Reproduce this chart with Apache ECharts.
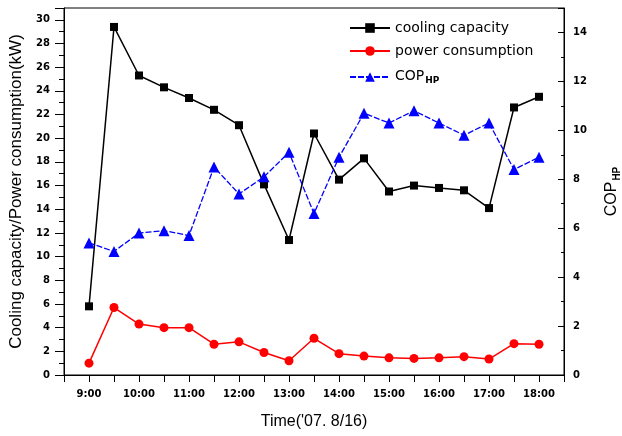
<!DOCTYPE html>
<html><head><meta charset="utf-8">
<script src="https://cdn.jsdelivr.net/npm/echarts@6/dist/echarts.min.js"></script>
<style>html,body{margin:0;padding:0;background:#fff}#c{width:622px;height:436px}</style>
</head><body><div id="c"></div>
<script>
const times = [9,9.5,10,10.5,11,11.5,12,12.5,13,13.5,14,14.5,15,15.5,16,16.5,17,17.5,18];
const coolingCapacity = [5.8,29.4,25.3,24.3,23.4,22.4,21.1,16.1,11.4,20.4,16.5,18.3,15.5,16.0,15.8,15.6,14.1,22.6,23.5];
const powerConsumption = [1.0,5.7,4.3,4.0,4.0,2.6,2.8,1.9,1.2,3.1,1.8,1.6,1.45,1.4,1.45,1.55,1.35,2.65,2.6];
const copHP = [5.4,5.05,5.8,5.9,5.7,8.5,7.4,8.1,9.1,6.6,8.9,10.7,10.3,10.8,10.3,9.8,10.3,8.4,8.9];
const seriesNames = ['cooling capacity','power consumption','COP_HP'];

const pair = (xs, ys) => xs.map((x,i)=>[x,ys[i]]);
const lblFont = {fontFamily:'DejaVu Sans', fontWeight:'bold', fontSize:10, color:'#000'};
const chart = echarts.init(document.getElementById('c'));
chart.setOption({
  animation:false,
  backgroundColor:'#fff',
  grid:{left:64,right:58,top:8,bottom:61,outerBoundsMode:'none',containLabel:false,show:true,borderColor:'#000',borderWidth:1,backgroundColor:'transparent'},
  legend:{
    orient:'vertical', left:344, top:16, itemWidth:40, itemHeight:12, itemGap:9,
    data:seriesNames,
    textStyle:{fontFamily:'DejaVu Sans', fontSize:14, color:'#000',
      rich:{a:{fontFamily:'DejaVu Sans',fontSize:14,color:'#000',lineHeight:16,verticalAlign:'top'},
            b:{fontFamily:'DejaVu Sans',fontSize:9,fontWeight:'bold',color:'#000',lineHeight:11,verticalAlign:'bottom',padding:[9,0,0,1]}}},
    formatter: n => n==='COP_HP' ? '{a|COP}{b|HP}' : n
  },
  xAxis:{
    type:'value', min:8.5, max:18.5, interval:0.5,
    name:"Time('07. 8/16)", nameLocation:'middle', nameGap:39,
    nameTextStyle:{fontFamily:'Liberation Sans', fontSize:16, color:'#000'},
    axisLine:{lineStyle:{color:'#000',width:1}},
    axisTick:{show:true,length:7,lineStyle:{color:'#000'}},
    splitLine:{show:false},
    axisLabel:Object.assign({margin:14, formatter:v => (Math.abs(v-Math.round(v))<1e-6) ? Math.round(v)+':00' : ''}, lblFont)
  },
  yAxis:[{
    type:'value', min:0, max:31, interval:2, position:'left',
    name:'Cooling capacity/Power consumption(kW)', nameLocation:'middle', nameGap:38,
    nameTextStyle:{fontFamily:'Liberation Sans', fontSize:17, color:'#000'},
    axisLine:{show:true,lineStyle:{color:'#000',width:1}},
    axisTick:{show:true,length:9,lineStyle:{color:'#000'}},
    minorTick:{show:true,splitNumber:2,length:5,lineStyle:{color:'#000'}},
    splitLine:{show:false},
    axisLabel:Object.assign({margin:14, showMaxLabel:false}, lblFont)
  },{
    type:'value', min:0, max:15, interval:2, position:'right',
    name:'{a|COP}{b|HP}', nameLocation:'middle', nameGap:40,
    nameTextStyle:{fontFamily:'Liberation Sans', fontSize:16, color:'#000',
      rich:{a:{fontFamily:'Liberation Sans',fontSize:16,color:'#000',lineHeight:18,verticalAlign:'top'},
            b:{fontFamily:'Liberation Sans',fontSize:10,fontWeight:'bold',color:'#000',lineHeight:12,verticalAlign:'bottom',padding:[10,0,0,1]}}},
    axisLine:{show:true,lineStyle:{color:'#000',width:1}},
    axisTick:{show:true,inside:true,length:6,lineStyle:{color:'#000'}},
    minorTick:{show:true,splitNumber:2,length:3,lineStyle:{color:'#000'}},
    splitLine:{show:false},
    axisLabel:Object.assign({margin:9, showMaxLabel:false}, lblFont)
  }],
  series:[
    {name:seriesNames[0], type:'line', yAxisIndex:0, data:pair(times,coolingCapacity),
     symbol:'rect', symbolSize:8, itemStyle:{color:'#000'}, lineStyle:{color:'#000',width:1.5}},
    {name:seriesNames[1], type:'line', yAxisIndex:0, data:pair(times,powerConsumption),
     symbol:'circle', symbolSize:9, itemStyle:{color:'#ff0000'}, lineStyle:{color:'#ff0000',width:1.5}},
    {name:seriesNames[2], type:'line', yAxisIndex:1, data:pair(times,copHP),
     symbol:'triangle', symbolSize:11, itemStyle:{color:'#0000ff'}, lineStyle:{color:'#0000ff',width:1.3,type:[6,2]}}
  ]
});
</script></body></html>
